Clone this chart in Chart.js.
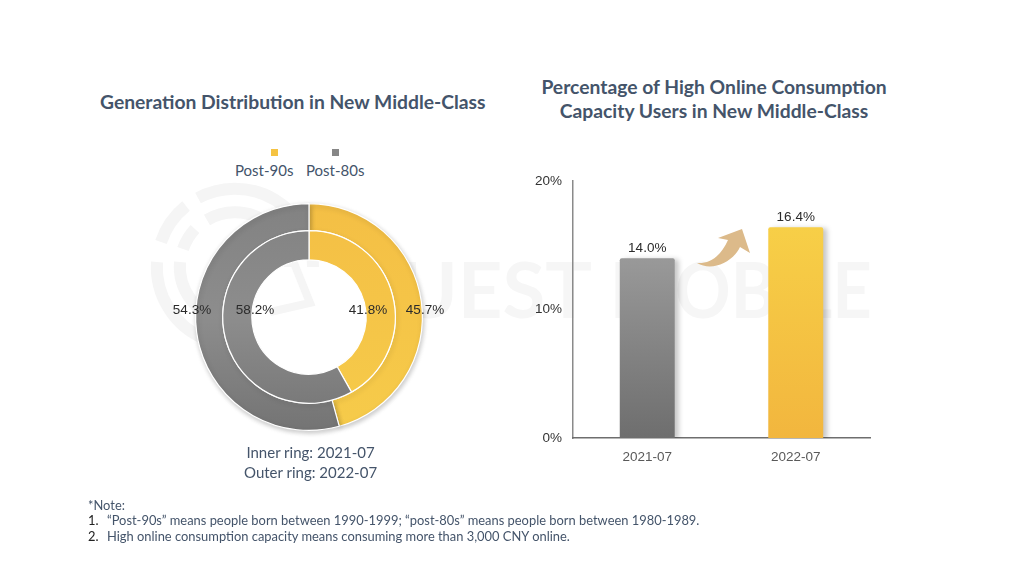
<!DOCTYPE html>
<html>
<head>
<meta charset="utf-8">
<script src="https://cdn.jsdelivr.net/npm/chart.js@4"></script>
<style>
  html, body { margin: 0; padding: 0; background: #fff; }
  #page { position: relative; width: 1024px; height: 575px; overflow: hidden; font-family: Lato, sans-serif; color: #44546a; }
  #page > * { position: absolute; }
  .title { font-weight: bold; font-size: 19.3px; line-height: 24px; text-align: center; white-space: nowrap; }
  .txt { white-space: nowrap; }
  .note { font-size: 12.9px; }
  .sq { width: 7px; height: 7px; }
  canvas { display: block; }
</style>
</head>
<body>
<div id="page">
  <svg width="1024" height="575" style="left:0;top:0">
    <g fill="none" stroke="#f5f5f5" stroke-width="12">
      <path d="M198 198 A78 78 0 0 1 313 267"/>
      <path d="M161 242 A78 78 0 0 1 186 206"/>
      <path d="M157 262 A78 78 0 0 0 205 339"/>
      <path d="M207 220 A55 55 0 0 1 290 267"/>
      <path d="M183 249 A55 55 0 0 1 195 229"/>
      <path d="M180 262 A55 55 0 0 0 222 320"/>
      <path d="M292 258 L310 303 L270 312" stroke-width="8"/>
    </g>
    <g font-family="Lato" font-weight="bold" font-size="76" fill="#f6f6f6">
      <text x="400" y="318" textLength="192" lengthAdjust="spacingAndGlyphs">UEST</text>
      <text x="610" y="318" textLength="262" lengthAdjust="spacingAndGlyphs">MOBILE</text>
    </g>
  </svg>

  <div class="title" style="left:100px;top:90px">Generation Distribution in New Middle-Class</div>
  <div class="title" style="left:514px;top:75px;width:400px">Percentage of High Online Consumption<br>Capacity Users in New Middle-Class</div>

  <div class="sq" style="left:271px;top:149px;background:#f5c342"></div>
  <div class="sq" style="left:332px;top:149px;background:#878787"></div>
  <div class="txt" id="leg0" style="left:235px;top:161px;font-size:15px"></div>
  <div class="txt" id="leg1" style="left:306px;top:161px;font-size:15px"></div>

  <canvas id="ring" style="left:149px;top:157px" width="320" height="320"></canvas>
  <canvas id="bars" style="left:520px;top:170px" width="360" height="300"></canvas>

  <svg width="1024" height="575" style="left:0;top:0">
    <path d="M697 263 C708 264 720 258 728 240 L718 238 L742 229 L750 253 L740 247 C733 262 712 272 697 263 Z" fill="#dcba8a"/>
  </svg>

  <div class="txt" style="left:244px;top:442px;font-size:15px;line-height:20px;text-align:center">Inner ring: 2021-07<br>Outer ring: 2022-07</div>

  <div class="txt note" style="left:88px;top:497px">*Note:</div>
  <div class="txt note" style="left:88px;top:512px;color:#222">1.</div>
  <div class="txt note" style="left:107px;top:512px">“Post-90s” means people born between 1990-1999; “post-80s” means people born between 1980-1989.</div>
  <div class="txt note" style="left:88px;top:528px;color:#222">2.</div>
  <div class="txt note" style="left:107px;top:528px">High online consumption capacity means consuming more than 3,000 CNY online.</div>
</div>

<script>
const generations = ["Post-90s", "Post-80s"];
const innerRing = [41.8, 58.2];   // 2021-07
const outerRing = [45.7, 54.3];   // 2022-07
const months = ["2021-07", "2022-07"];
const highCapacity = [14.0, 16.4];
const yTicks = [0, 10, 20];

document.getElementById("leg0").textContent = generations[0];
document.getElementById("leg1").textContent = generations[1];

const labelFont = '13.5px "Liberation Sans"';

function softShadow(ctx, dx, dy) {
  ctx.shadowColor = "rgba(0,0,0,0.22)";
  ctx.shadowBlur = 5;
  ctx.shadowOffsetX = dx;
  ctx.shadowOffsetY = dy;
}

function ringFill(context, i) {
  const c = context.chart.ctx;
  const g = c.createLinearGradient(0, 47, 0, 273);
  if (i === 0) {
    g.addColorStop(0, "#f4bf45");
    g.addColorStop(1, "#f6cb4a");
  } else {
    g.addColorStop(0, "#828282");
    g.addColorStop(0.5, "#8d8d8d");
    g.addColorStop(1, "#747474");
  }
  return g;
}

// labels sit on one line, pushed sideways like in the original slide
const ringLabelDx = { 0: [116, -117], 1: [59, -54] };

const ringLabels = {
  id: "ringLabels",
  afterDraw(chart) {
    const c = chart.ctx;
    const cx = chart.chartArea.left + chart.chartArea.width / 2;
    const cy = chart.chartArea.top + chart.chartArea.height / 2;
    c.save();
    c.font = labelFont;
    c.fillStyle = "#2b2b2b";
    c.textAlign = "center";
    c.textBaseline = "middle";
    chart.data.datasets.forEach((ds, d) => {
      ds.data.forEach((v, i) => {
        c.fillText(v.toFixed(1) + "%", cx + ringLabelDx[d][i], cy - 7);
      });
    });
    c.restore();
  }
};

// only the outer ring throws a shadow, the inner one is drawn over it afterwards
const ringShadow = {
  id: "ringShadow",
  beforeDatasetDraw(chart, args) {
    chart.ctx.save();
    if (args.index === 0) softShadow(chart.ctx, 1, 2);
  },
  afterDatasetDraw(chart) { chart.ctx.restore(); }
};

new Chart(document.getElementById("ring"), {
  type: "doughnut",
  data: {
    labels: generations,
    datasets: [
      { label: "2022-07", data: outerRing, weight: 27, order: 1 },
      { label: "2021-07", data: innerRing, weight: 29, order: 0 }
    ]
  },
  options: {
    responsive: false,
    animation: false,
    cutout: 57 / 113 * 100 + "%",
    layout: { padding: 46 },
    elements: {
      arc: {
        backgroundColor: (ctx) => ringFill(ctx, ctx.dataIndex),
        borderColor: "#ffffff",
        borderWidth: 1.2
      }
    },
    plugins: { legend: { display: false }, tooltip: { enabled: false } }
  },
  plugins: [ringShadow, ringLabels]
});

function barFill(context) {
  const c = context.chart.ctx;
  const y = context.chart.scales.y;
  const i = context.dataIndex;
  if (!y || i === undefined) return "#999999";
  const top = y.getPixelForValue(highCapacity[i]);
  const bottom = y.getPixelForValue(0);
  if (!Number.isFinite(top) || !Number.isFinite(bottom)) return "#999999";
  const g = c.createLinearGradient(0, top, 0, bottom);
  if (i === 0) {
    g.addColorStop(0, "#999999");
    g.addColorStop(1, "#6e6e6e");
  } else {
    g.addColorStop(0, "#f7cf47");
    g.addColorStop(1, "#f2b63e");
  }
  return g;
}

const barLabels = {
  id: "barLabels",
  afterDatasetsDraw(chart) {
    const c = chart.ctx;
    c.save();
    c.font = labelFont;
    c.fillStyle = "#2b2b2b";
    c.textAlign = "center";
    c.textBaseline = "middle";
    chart.getDatasetMeta(0).data.forEach((bar, i) => {
      c.fillText(highCapacity[i].toFixed(1) + "%", bar.x, bar.y - 10);
    });
    c.restore();
  }
};

const barShadow = {
  id: "barShadow",
  beforeDatasetsDraw(chart) { chart.ctx.save(); softShadow(chart.ctx, 4, 1); },
  afterDatasetsDraw(chart) { chart.ctx.restore(); }
};

new Chart(document.getElementById("bars"), {
  type: "bar",
  data: {
    labels: months,
    datasets: [{ data: highCapacity, backgroundColor: barFill, borderRadius: { topLeft: 2, topRight: 2 }, borderSkipped: "bottom", barPercentage: 0.37, categoryPercentage: 1 }]
  },
  options: {
    responsive: false,
    animation: false,
    layout: { padding: { top: 7, right: 10, bottom: 0, left: 0 } },
    scales: {
      y: {
        min: yTicks[0],
        max: yTicks[yTicks.length - 1],
        afterFit(s) { s.width = 53; },
        afterBuildTicks(s) { s.ticks = yTicks.map((v) => ({ value: v })); },
        grid: { display: false },
        border: { color: "#8a8a8a", width: 1.5 },
        ticks: { padding: 3, color: "#333", font: { family: "Liberation Sans", size: 13.5 }, callback: (v) => v + "%" }
      },
      x: {
        afterFit(s) { s.height = 32; },
        grid: { display: false },
        border: { color: "#6e6e6e", width: 1.5 },
        ticks: { padding: 3, color: "#595959", font: { family: "Liberation Sans", size: 13.5 } }
      }
    },
    plugins: { legend: { display: false }, tooltip: { enabled: false } }
  },
  plugins: [barShadow, barLabels]
});
</script>
</body>
</html>
